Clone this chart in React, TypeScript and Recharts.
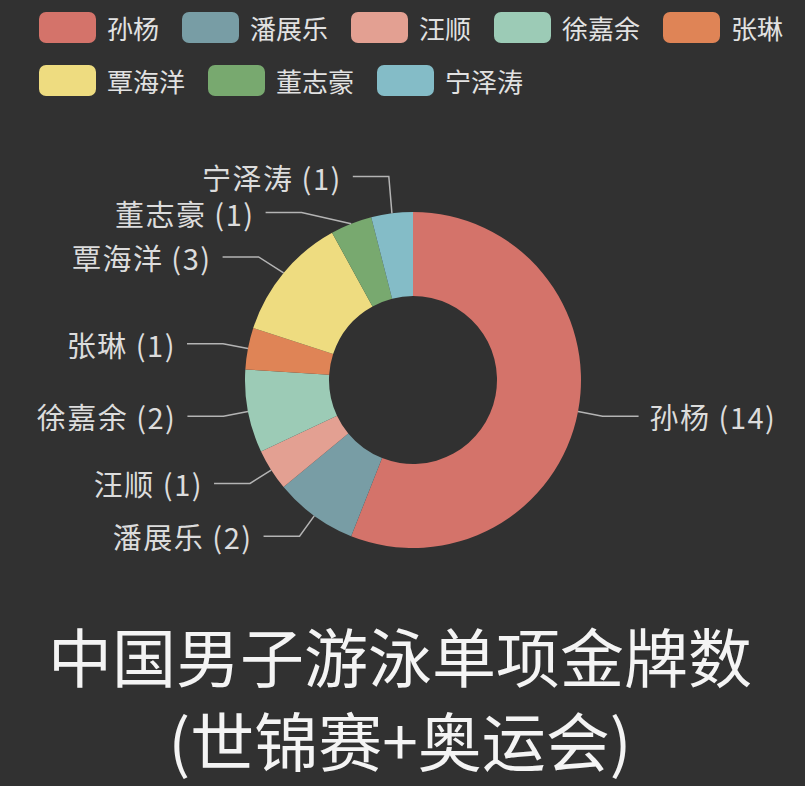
import React from "react";
import { PieChart, Pie, Cell } from "recharts";

// gold medals per swimmer, clockwise from 12 o'clock
const NAMES = ["孙杨", "潘展乐", "汪顺", "徐嘉余", "张琳", "覃海洋", "董志豪", "宁泽涛"];
const GOLDS = [14, 2, 1, 2, 1, 3, 1, 1];
const COLORS = [
  "#d4736a", "#789da5", "#e3a092", "#9ccbb6", "#df8456", "#eedc80", "#78a96f", "#84bcc7",
];
const TITLE_LINES = ["中国男子游泳单项金牌数", "(世锦赛+奥运会)"];

const BG = "#313131";
const FONT = "'Noto Sans CJK SC', 'Noto Sans', sans-serif";
const CX = 413;
const CY = 380;
const R_IN = 84;
const R_OUT = 168;
const LEN = 25; // radial part of label line
const LEN2 = 36; // horizontal part
const LABEL_H = 36;
const TEXT_GAP = 11;
const RAD = Math.PI / 180;

const data = NAMES.map((name, i) => ({ name, value: GOLDS[i] }));

type LabelPos = { i: number; dir: number; x: number; y0: number; y: number };

// echarts-like label layout: spread overlapping labels on each side, then put
// the elbow of every line back on an ellipse around the pie
function layoutLabels(): LabelPos[] {
  const total = GOLDS.reduce((a, b) => a + b, 0);
  const rA = R_OUT + LEN;
  let acc = 0;
  const items: LabelPos[] = GOLDS.map((v, i) => {
    const mid = 90 - ((acc + v / 2) / total) * 360;
    acc += v;
    const x = CX + rA * Math.cos(mid * RAD);
    const y = CY - rA * Math.sin(mid * RAD);
    return { i, dir: x >= CX ? 1 : -1, x, y0: y, y };
  });

  [-1, 1].forEach((dir) => {
    const side = items.filter((it) => it.dir === dir).sort((a, b) => a.y0 - b.y0);
    let clusters = side.map((it) => ({ list: [it], top: it.y0 }));
    let merged = true;
    while (merged) {
      merged = false;
      for (let k = 1; k < clusters.length; k++) {
        const prev = clusters[k - 1];
        if (clusters[k].top < prev.top + prev.list.length * LABEL_H) {
          const list = prev.list.concat(clusters[k].list);
          const top = list.reduce((s, it, j) => s + it.y0 - j * LABEL_H, 0) / list.length;
          clusters.splice(k - 1, 2, { list, top });
          merged = true;
          break;
        }
      }
    }
    let adjusted = false;
    clusters.forEach((c) =>
      c.list.forEach((it, j) => {
        it.y = c.top + j * LABEL_H;
        if (Math.abs(it.y - it.y0) > 0.5) adjusted = true;
      })
    );
    if (!adjusted) return;

    [side.filter((it) => it.y <= CY), side.filter((it) => it.y > CY)].forEach((semi) => {
      if (!semi.length) return;
      let maxDy = -1;
      let rB = rA;
      semi.forEach((it) => {
        const dy = Math.abs(it.y - CY);
        if (dy >= maxDy) {
          const dx = it.x - CX;
          rB = Math.abs(dx) < rA ? Math.sqrt((dy * dy) / (1 - (dx * dx) / (rA * rA))) : rA;
          maxDy = dy;
        }
      });
      semi.forEach((it) => {
        const dy = Math.abs(it.y - CY);
        it.x = CX + dir * rA * Math.sqrt(Math.max(0, 1 - (dy * dy) / (rB * rB)));
      });
    });
  });
  return items;
}

const LABELS = layoutLabels();

const renderLabel = (props: any) => {
  const { cx, cy, midAngle, outerRadius, index, name, value } = props;
  const pos = LABELS[index];
  const sx = cx + outerRadius * Math.cos(-midAngle * RAD);
  const sy = cy + outerRadius * Math.sin(-midAngle * RAD);
  const ex = pos.x + pos.dir * LEN2;
  return (
    <g key={`lbl-${index}`}>
      <polyline
        points={`${sx},${sy} ${pos.x},${pos.y} ${ex},${pos.y}`}
        fill="none"
        stroke="#b4b4b4"
        strokeWidth={1.5}
      />
      <text
        x={ex + pos.dir * TEXT_GAP}
        y={pos.y}
        textAnchor={pos.dir > 0 ? "start" : "end"}
        dominantBaseline="central"
        fill="#dcdcdc"
        fontSize={29}
        letterSpacing={1.5}
        fontFamily={FONT}
      >
        {`${name} (${value})`}
      </text>
    </g>
  );
};

export default function App() {
  return (
    <div
      style={{
        position: "absolute",
        left: 0,
        top: 0,
        width: 805,
        height: 786,
        background: BG,
        fontFamily: FONT,
        overflow: "hidden",
      }}
    >
      {/* legend */}
      <div
        style={{
          position: "absolute",
          left: 39,
          top: 12,
          width: 760,
          display: "flex",
          flexWrap: "wrap",
          columnGap: 23,
          rowGap: 22,
        }}
      >
        {NAMES.map((n, i) => (
          <div key={n} style={{ display: "flex", alignItems: "center", gap: 11, height: 31 }}>
            <div style={{ width: 57, height: 31, borderRadius: 7, background: COLORS[i] }} />
            <span style={{ fontSize: 26, lineHeight: "31px", color: "#e2e2e2" }}>{n}</span>
          </div>
        ))}
      </div>

      <div style={{ position: "absolute", left: 0, top: 0 }}>
        <PieChart width={805} height={600} margin={{ top: 0, right: 0, bottom: 0, left: 0 }}>
          <Pie
            data={data}
            dataKey="value"
            nameKey="name"
            cx={CX}
            cy={CY}
            innerRadius={R_IN}
            outerRadius={R_OUT}
            startAngle={90}
            endAngle={-270}
            stroke="none"
            label={renderLabel}
            labelLine={false}
            isAnimationActive={false}
          >
            {data.map((d, i) => (
              <Cell key={d.name} fill={COLORS[i]} />
            ))}
          </Pie>
        </PieChart>
      </div>

      {/* title */}
      <div
        style={{
          position: "absolute",
          left: 0,
          top: 612,
          width: 800,
          textAlign: "center",
          fontSize: 64,
          lineHeight: "84px",
          color: "#f4f4f4",
        }}
      >
        {TITLE_LINES.map((t) => (
          <div key={t}>{t}</div>
        ))}
      </div>
    </div>
  );
}
